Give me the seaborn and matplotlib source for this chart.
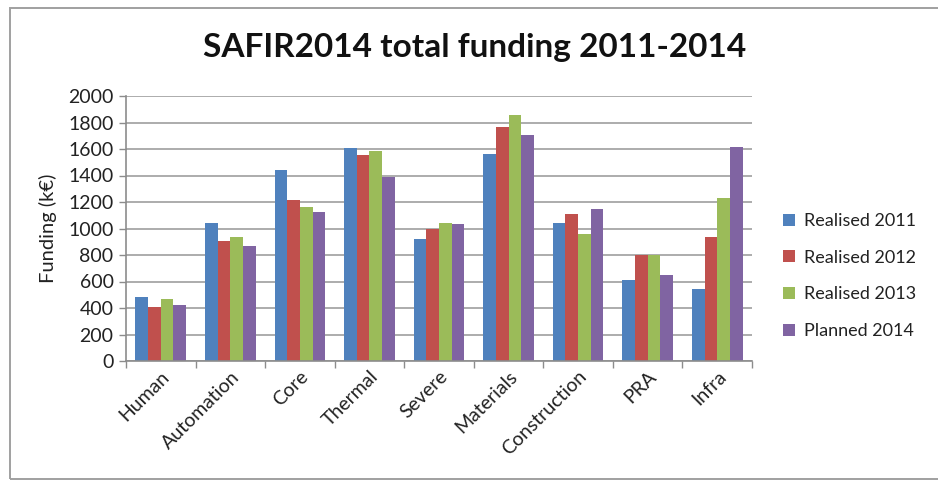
import matplotlib
matplotlib.use("Agg")
import matplotlib.pyplot as plt
import seaborn as sns
import pandas as pd
import numpy as np
from matplotlib.patches import Rectangle
from matplotlib.lines import Line2D

categories = ["Human", "Automation", "Core", "Thermal", "Severe", "Materials",
              "Construction", "PRA", "Infra"]
series = ["Realised 2011", "Realised 2012", "Realised 2013", "Planned 2014"]
realised_2011 = [481, 1043, 1441, 1609, 917, 1562, 1043, 610, 542]
realised_2012 = [410, 904, 1218, 1552, 993, 1765, 1109, 800, 934]
realised_2013 = [466, 937, 1165, 1585, 1038, 1858, 962, 800, 1233]
planned_2014 = [420, 868, 1124, 1388, 1033, 1707, 1147, 651, 1615]
yticks = [0, 200, 400, 600, 800, 1000, 1200, 1400, 1600, 1800, 2000]
colors = ["#4F81BD", "#C0504D", "#9BBB59", "#8064A2"]

rows = []
for s, vals in zip(series, [realised_2011, realised_2012, realised_2013, planned_2014]):
    for c, v in zip(categories, vals):
        rows.append({"Category": c, "Series": s, "Funding": v})
df = pd.DataFrame(rows)

sns.set_style("white")
plt.rcParams["font.family"] = ["Lato", "DejaVu Sans"]

fig = plt.figure(figsize=(9.38, 4.8), dpi=100)
ax = fig.add_axes([126 / 938, 1 - 361 / 480, (752 - 126) / 938, (361 - 96) / 480])

sns.barplot(data=df, x="Category", y="Funding", hue="Series", order=categories,
            hue_order=series, palette=colors, width=0.727, saturation=1,
            ax=ax, legend=False, linewidth=0)

ax.set_ylim(0, 2000)
ax.set_xlim(-0.5, len(categories) - 0.5)
ax.set_yticks(yticks)
ax.set_yticklabels([str(t) for t in yticks], fontsize=14, color="#222222")
ax.yaxis.grid(True, color="#A6A6A6", linewidth=1.3)
ax.set_axisbelow(True)
for side in ["top", "right"]:
    ax.spines[side].set_visible(False)
for side in ["left", "bottom"]:
    ax.spines[side].set_color("#8C8C8C")
    ax.spines[side].set_linewidth(1.2)
ax.tick_params(axis="y", length=5, width=1, color="#8C8C8C", direction="out", left=True, pad=4)
ax.tick_params(axis="x", which="major", length=0, pad=5)
ax.set_xticks(np.arange(-0.5, len(categories), 1.0), minor=True)
ax.tick_params(axis="x", which="minor", length=5, width=1, color="#8C8C8C", bottom=True, direction="out")
ax.set_xticks(range(len(categories)))
ax.set_xticklabels(categories, rotation=45, ha="right", rotation_mode="anchor",
                   fontsize=14, color="#222222")
ax.set_xlabel("")
ax.set_ylabel("Funding (k\u20ac)", fontsize=14.5, color="#222222", labelpad=8)

fig.text(475 / 938, 1 - 48 / 480, "SAFIR2014 total funding 2011-2014",
         ha="center", va="center", fontsize=24, fontweight="bold", color="#111111")

handles = [Line2D([0], [0], marker="s", linestyle="", markersize=8,
                  markerfacecolor=c, markeredgewidth=0) for c in colors]
leg = fig.legend(handles, series, loc="center left", bbox_to_anchor=(764 / 938, 1 - 276 / 480),
                 frameon=False, fontsize=13, handletextpad=0.3, labelspacing=1.15,
                 handlelength=1.0)
for t in leg.get_texts():
    t.set_color("#222222")

fig.patches.append(Rectangle((10 / 938, 1 - 479 / 480), (960 - 10) / 938, (479 - 8) / 480,
                             transform=fig.transFigure, fill=False,
                             edgecolor="#A0A0A0", linewidth=1.4))

fig.savefig("out.png", dpi=100, facecolor="white")
